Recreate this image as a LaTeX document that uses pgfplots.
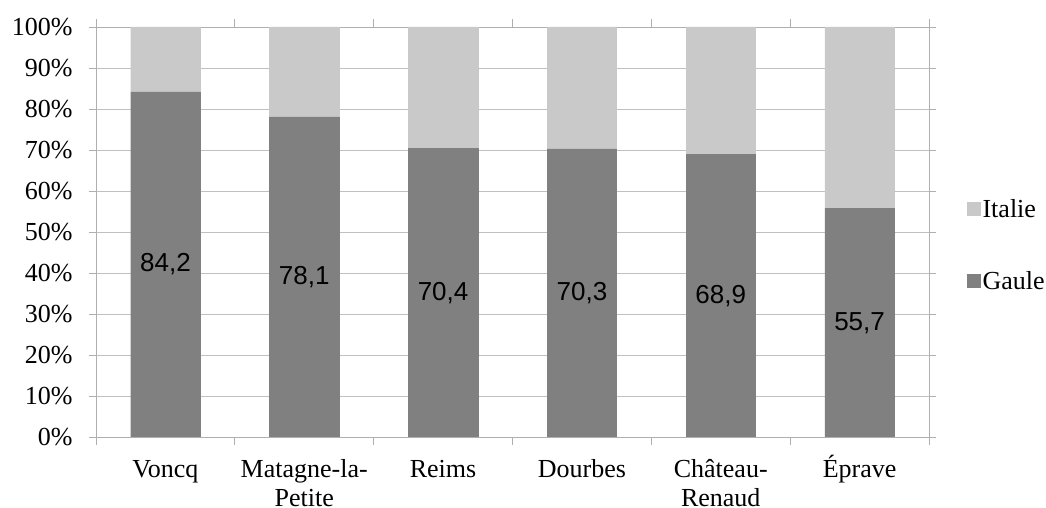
\documentclass[border=0pt]{standalone}
\usepackage{fontspec}
\setmainfont{Liberation Serif}
\newfontfamily\arial{Liberation Sans}
\usepackage{pgfplots}
\pgfplotsset{compat=1.18}
\definecolor{gaule}{RGB}{128,128,128}
\definecolor{italie}{RGB}{201,201,201}
\definecolor{gridc}{RGB}{192,192,192}
\definecolor{axisc}{RGB}{175,175,175}
\begin{document}
\begin{tikzpicture}
\useasboundingbox (-96pt,-71pt) rectangle (950pt,437pt);
\begin{axis}[
  at={(0pt,0pt)}, anchor=south west,
  scale only axis, width=833pt, height=410pt,
  ybar stacked, bar width=69.4pt,
  xmin=-0.5, xmax=5.5, ymin=0, ymax=100,
  xtick={0,1,2,3,4,5},
  xticklabels={\vphantom{É}Voncq, \vphantom{É}Matagne-la-\\Petite, \vphantom{É}Reims, \vphantom{É}Dourbes, \vphantom{É}Château-\\Renaud, Éprave},
  minor xtick={-0.5,0.5,1.5,2.5,3.5,4.5,5.5},
  major x tick style={draw=none},
  ytick={0,10,20,30,40,50,60,70,80,90,100},
  yticklabels={0\%,10\%,20\%,30\%,40\%,50\%,60\%,70\%,80\%,90\%,100\%},
  ymajorgrids, grid style={gridc, line width=0.8pt},
  tick align=outside, major tick length=7pt, minor tick length=8pt,
  tick style={axisc, line width=0.8pt},
  axis line style={axisc, line width=0.8pt},
  tick label style={font=\fontsize{26}{29}\selectfont},
  xticklabel style={align=center, yshift=-8pt},
  yticklabel style={xshift=-13pt},
  legend style={at={(1.0456,0.468)}, anchor=west, draw=none, fill=none,
    font=\fontsize{26}{29}\selectfont, row sep=48pt, inner sep=0pt,
    legend cell align=left},
  reverse legend,
]
\addplot[fill=gaule, draw=gaule,
  legend image code/.code={\fill[gaule] (0pt,-6pt) rectangle (13pt,7pt);},
  point meta=explicit symbolic, nodes near coords,
  nodes near coords style={font=\arial\fontsize{26}{29}\selectfont, anchor=center, black}]
  coordinates {(0,84.2) [84,2] (1,78.1) [78,1] (2,70.4) [70,4] (3,70.3) [70,3] (4,68.9) [68,9] (5,55.7) [55,7]};
\addlegendentry{Gaule}
\addplot[fill=italie, draw=italie,
  legend image code/.code={\fill[italie] (0pt,-6pt) rectangle (13pt,7pt);}]
  coordinates {(0,15.8) (1,21.9) (2,29.6) (3,29.7) (4,31.1) (5,44.3)};
\addlegendentry{Italie}
\end{axis}
\end{tikzpicture}
\end{document}
